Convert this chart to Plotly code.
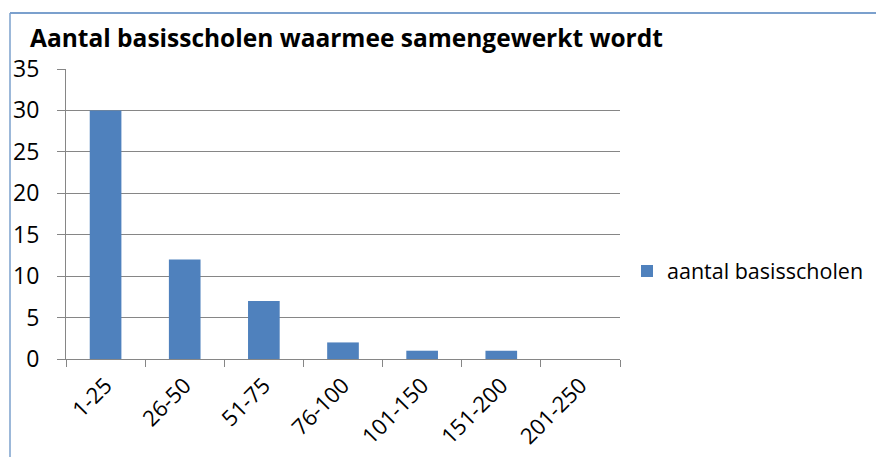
import plotly.graph_objects as go

categories = ["1-25", "26-50", "51-75", "76-100", "101-150", "151-200", "201-250"]
values = [30, 12, 7, 2, 1, 1, 0]
series_name = "aantal basisscholen"
title_text = "Aantal basisscholen waarmee samengewerkt wordt"
y_ticks = [0, 5, 10, 15, 20, 25, 30, 35]

# page has an 8px body margin; figure coordinates are offset by 8px
OFF = 8
W, H = 884 - OFF, 457 - OFF
L, T = 66 - OFF, 69 - OFF
R = W - (620 - OFF)
B = H - (359 - OFF)
pw, ph = W - L - R, H - T - B

def px_x(p):
    return (p - OFF - L) / pw

def px_y(p):
    return (H - B - (p - OFF)) / ph

font_main = "'Open Sans', Lato, sans-serif"

fig = go.Figure()
fig.add_trace(go.Bar(
    x=categories, y=values, name=series_name,
    marker=dict(color="#4F81BD", line=dict(width=0)),
    showlegend=True,
))

fig.update_layout(
    width=W, height=H,
    margin=dict(l=L, r=R, t=T, b=B, autoexpand=False),
    paper_bgcolor="white", plot_bgcolor="white",
    bargap=0.6,
    font=dict(family=font_main, size=23, color="black"),
    title=dict(text="<b>" + title_text + "</b>", x=(30 - OFF) / W, xref="container", xanchor="left",
               y=(H - (38 - OFF)) / H, yanchor="middle", yref="container",
               font=dict(size=24.5, family=font_main, color="black")),
    showlegend=True,
    legend=dict(x=px_x(627), y=px_y(271), xanchor="left", yanchor="middle",
                font=dict(size=21.5, family=font_main), itemwidth=30,
                bgcolor="rgba(0,0,0,0)"),
    xaxis=dict(type="category", categoryorder="array", categoryarray=categories,
               tickangle=-45, showline=True, linecolor="#868686", linewidth=1,
               ticks="outside", tickson="boundaries", ticklen=7, tickcolor="#868686",
               showgrid=False, tickfont=dict(size=22), ticklabelstandoff=4, mirror=False),
    yaxis=dict(range=[0, 35], tickvals=y_ticks, showline=True, linecolor="#868686",
               linewidth=1, ticks="outside", ticklen=8, tickcolor="#868686",
               showgrid=True, gridcolor="#868686", gridwidth=1, zeroline=False,
               tickfont=dict(size=23), ticklabelstandoff=13),
    shapes=[
        dict(type="line", xref="paper", yref="paper", x0=px_x(10), x1=px_x(884),
             y0=px_y(13), y1=px_y(13), line=dict(color="#4F81BD", width=1.5)),
        dict(type="line", xref="paper", yref="paper", x0=px_x(10), x1=px_x(10),
             y0=px_y(13), y1=px_y(457), line=dict(color="#7BA0CD", width=1.5)),
    ],
)

fig.write_html("out.html")
